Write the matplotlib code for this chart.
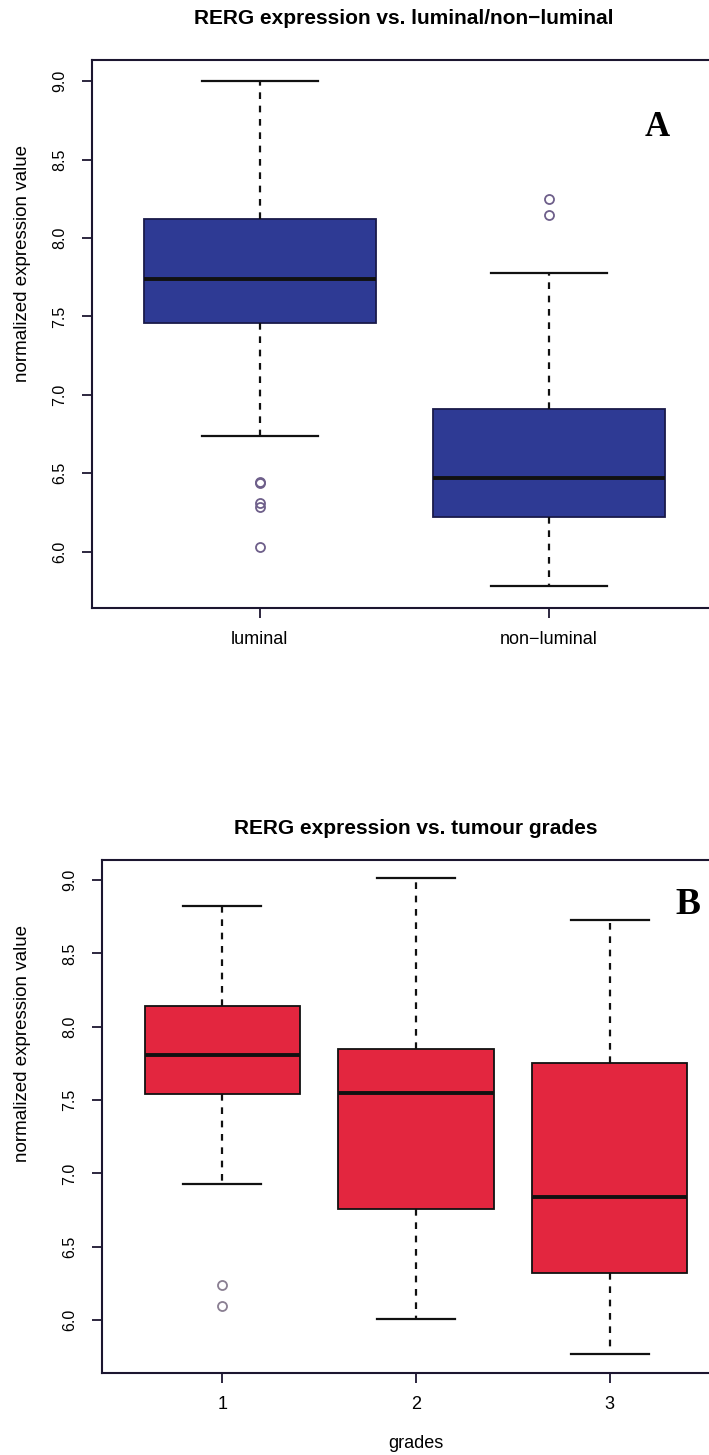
import matplotlib
matplotlib.use("Agg")
import matplotlib.pyplot as plt

plt.rcParams['font.family'] = ['Liberation Sans', 'DejaVu Sans']

# panel A: luminal vs non-luminal
lum_groups = ['luminal', 'non\u2212luminal']
lum_whislo = [6.74, 5.78]
lum_q1 = [7.46, 6.22]
lum_med = [7.74, 6.47]
lum_q3 = [8.12, 6.91]
lum_whishi = [9.00, 7.78]
lum_fliers = [[6.445, 6.435, 6.31, 6.285, 6.03], [8.25, 8.15]]

# panel B: tumour grades
grade_groups = ['1', '2', '3']
grade_whislo = [6.93, 6.01, 5.77]
grade_q1 = [7.54, 6.76, 6.32]
grade_med = [7.81, 7.55, 6.84]
grade_q3 = [8.14, 7.85, 7.75]
grade_whishi = [8.82, 9.01, 8.73]
grade_fliers = [[6.24, 6.10], [], []]

yticks = [6.0, 6.5, 7.0, 7.5, 8.0, 8.5, 9.0]

W, H = 709, 1455
AXIS_COLOR = '#1c1630'


def px_box(left, top, right, bottom):
    """Figure-fraction rect from pixel edges."""
    return [left / W, 1 - bottom / H, (right - left) / W, (bottom - top) / H]


def make_stats(whislo, q1, med, q3, whishi, fliers):
    return [dict(whislo=a, q1=b, med=c, q3=d, whishi=e, fliers=f)
            for a, b, c, d, e, f in zip(whislo, q1, med, q3, whishi, fliers)]


def draw_panel(fig, rect, stats, labels, face, edge, flier_color):
    ax = fig.add_axes(rect)
    n = len(stats)
    pos = list(range(1, n + 1))
    ax.bxp(stats, positions=pos, widths=0.8, capwidths=0.4,
           patch_artist=True, manage_ticks=False,
           boxprops=dict(facecolor=face, edgecolor=edge, linewidth=1.3),
           medianprops=dict(color='#111111', linewidth=2.8),
           whiskerprops=dict(color='#111111', linewidth=1.6, linestyle=(0, (3, 3))),
           capprops=dict(color='#111111', linewidth=1.6),
           flierprops=dict(marker='o', markerfacecolor='none',
                           markeredgecolor=flier_color, markersize=6.5,
                           markeredgewidth=1.3))
    # R style range: 4% padding around 0.5 .. n+0.5
    pad = 0.04 * n
    ax.set_xlim(0.5 - pad, n + 0.5 + pad)
    ax.set_ylim(5.64, 9.136)
    ax.set_xticks(pos)
    ax.set_xticklabels(labels, fontsize=13)
    ax.set_yticks(yticks)
    ax.set_yticklabels([f'{v:.1f}' for v in yticks], fontsize=11.5,
                       rotation=90, va='center')
    for s in ax.spines.values():
        s.set_color(AXIS_COLOR)
        s.set_linewidth(1.5)
    ax.tick_params(axis='both', direction='out', length=7, width=1.3,
                   color=AXIS_COLOR, top=False, right=False)
    ax.tick_params(axis='y', pad=11)
    ax.tick_params(axis='x', pad=9.5)
    return ax


fig = plt.figure(figsize=(W / 100, H / 100), dpi=100)

# A
draw_panel(fig, px_box(92, 60, 717, 608),
           make_stats(lum_whislo, lum_q1, lum_med, lum_q3, lum_whishi, lum_fliers),
           lum_groups, '#2e3a94', '#1a1a4a', '#6e5f8a')
fig.text(404 / W, 1 - 18 / H, 'RERG expression vs. luminal/non\u2212luminal',
         ha='center', va='center', fontsize=15, fontweight='bold')
fig.text(23 / W, 1 - 263 / H, 'normalized expression value', rotation=90,
         ha='center', va='center', fontsize=13.5)
fig.text(657 / W, 1 - 127 / H, 'A', ha='center', va='center', fontsize=25,
         fontweight='bold', family='Liberation Serif')

# B
draw_panel(fig, px_box(102, 860, 730, 1373),
           make_stats(grade_whislo, grade_q1, grade_med, grade_q3, grade_whishi, grade_fliers),
           grade_groups, '#e3263f', '#111111', '#8a7f92')
fig.text(416 / W, 1 - 828 / H, 'RERG expression vs. tumour grades',
         ha='center', va='center', fontsize=15, fontweight='bold')
fig.text(23 / W, 1 - 1043 / H, 'normalized expression value', rotation=90,
         ha='center', va='center', fontsize=13.5)
fig.text(416 / W, 1 - 1443 / H, 'grades', ha='center', va='center', fontsize=13)
fig.text(688 / W, 1 - 904 / H, 'B', ha='center', va='center', fontsize=27,
         fontweight='bold', family='Liberation Serif')

fig.savefig('out.png', dpi=100)
